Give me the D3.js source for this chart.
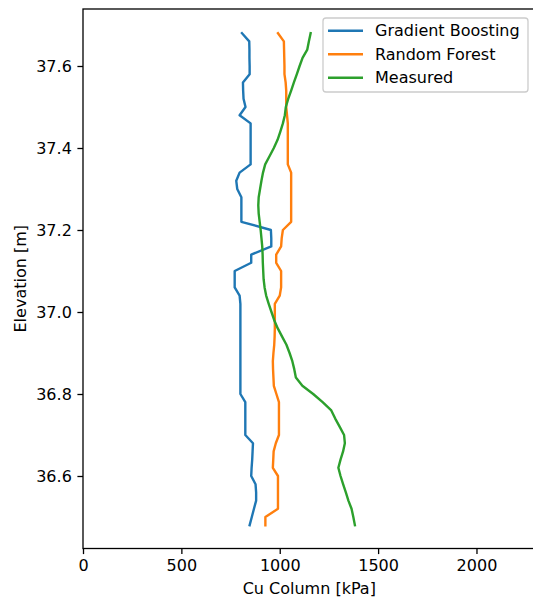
<!DOCTYPE html>
<html>
<head>
<meta charset="utf-8">
<script src="https://cdn.jsdelivr.net/npm/d3@7"></script>
<style>
  body { margin: 0; background: #fff; }
  svg { display: block; font-family: "DejaVu Sans", sans-serif; }
</style>
</head>
<body>
<div id="chart"></div>
<script>
// elevation of each sample [m]
var elevation = [
  37.68, 37.66, 37.64, 37.62, 37.60, 37.58, 37.56, 37.54, 37.52, 37.50,
  37.48, 37.46, 37.44, 37.42, 37.40, 37.38, 37.36, 37.34, 37.32, 37.30,
  37.28, 37.26, 37.24, 37.22, 37.20, 37.18, 37.16, 37.14, 37.12, 37.10,
  37.08, 37.06, 37.04, 37.02, 37.00, 36.98, 36.96, 36.94, 36.92, 36.90,
  36.88, 36.86, 36.84, 36.82, 36.80, 36.78, 36.76, 36.74, 36.72, 36.70,
  36.68, 36.66, 36.64, 36.62, 36.60, 36.58, 36.56, 36.54, 36.52, 36.50,
  36.48
];

// Cu column [kPa]
var gradient_boosting = [
  808, 845, 846, 846, 847, 847, 813, 814, 816, 826,
  796, 852, 852, 852, 852, 852, 852, 796, 779, 784,
  805, 805, 805, 805, 955, 957, 957, 855, 855, 771,
  771, 771, 796, 800, 800, 800, 800, 800, 800, 800,
  800, 800, 800, 800, 800, 825, 825, 825, 825, 825,
  864, 862, 860, 857, 855, 877, 880, 880, 869, 858,
  847
];

var random_forest = [
  991, 1021, 1022, 1023, 1024, 1024, 1030, 1033, 1033, 1033,
  1037, 1041, 1041, 1041, 1041, 1041, 1041, 1058, 1058, 1058,
  1058, 1058, 1058, 1058, 1016, 1010, 1007, 982, 982, 1007,
  1007, 1007, 1000, 975, 975, 975, 975, 974, 972, 968,
  965, 966, 968, 970, 983, 996, 996, 996, 996, 996,
  980, 969, 967, 965, 991, 991, 991, 991, 991, 927,
  927
];

var measured = [
  1157, 1148, 1140, 1116, 1101, 1087, 1072, 1058, 1043, 1031,
  1026, 1016, 1003, 989, 970, 948, 926, 915, 907, 900,
  893, 891, 893, 898, 903, 907, 911, 913, 914, 916,
  918, 923, 931, 944, 958, 972, 990, 1012, 1034, 1050,
  1064, 1074, 1082, 1115, 1170, 1218, 1262, 1282, 1305, 1327,
  1331, 1322, 1309, 1298, 1309, 1322, 1336, 1349, 1365, 1374,
  1382
];

var series_names = ['Gradient Boosting', 'Random Forest', 'Measured'];
var series_colors = ['#1f77b4', '#ff7f0e', '#2ca02c'];
var x_ticks = [0, 500, 1000, 1500, 2000];
var y_ticks = [37.6, 37.4, 37.2, 37.0, 36.8, 36.6];

var W = 533, H = 604;
var plot = { left: 83, top: 9, right: 535.5, bottom: 548.5 };
var font_size = 16;

var svg = d3.select('#chart')
  .append('svg')
  .attr('width', W)
  .attr('height', H);

var x = d3.scaleLinear().domain([0, 2300]).range([plot.left, plot.right]);
var y = d3.scaleLinear().domain([36.6, 37.6]).range([476, 66]);

// data lines
var all_series = [gradient_boosting, random_forest, measured];
var line = d3.line()
  .x(function (d) { return x(d[0]); })
  .y(function (d) { return y(d[1]); });

all_series.forEach(function (vals, i) {
  var pts = vals.map(function (v, j) { return [v, elevation[j]]; });
  svg.append('path')
    .datum(pts)
    .attr('d', line)
    .attr('fill', 'none')
    .attr('stroke', series_colors[i])
    .attr('stroke-width', 2.4)
    .attr('stroke-linejoin', 'round')
    .attr('stroke-linecap', 'square');
});

// spines
svg.append('rect')
  .attr('x', plot.left)
  .attr('y', plot.top)
  .attr('width', plot.right - plot.left)
  .attr('height', plot.bottom - plot.top)
  .attr('fill', 'none')
  .attr('stroke', '#000')
  .attr('stroke-width', 1.3);

// axes
var x_axis = svg.append('g')
  .attr('transform', 'translate(0,' + plot.bottom + ')')
  .call(d3.axisBottom(x).tickValues(x_ticks).tickFormat(d3.format('d'))
    .tickSize(5.6).tickPadding(5.6));

var y_axis = svg.append('g')
  .attr('transform', 'translate(' + plot.left + ',0)')
  .call(d3.axisLeft(y).tickValues(y_ticks).tickFormat(d3.format('.1f'))
    .tickSize(5.6).tickPadding(5.6));

[x_axis, y_axis].forEach(function (g) {
  g.select('.domain').remove();
  g.selectAll('.tick line').attr('stroke', '#000').attr('stroke-width', 1.3);
  g.selectAll('.tick text')
    .attr('fill', '#000')
    .style('font-size', font_size + 'px')
    .style('font-family', '"DejaVu Sans", sans-serif');
});

// axis labels
svg.append('text')
  .attr('x', (plot.left + plot.right) / 2)
  .attr('y', 594)
  .attr('text-anchor', 'middle')
  .attr('font-size', font_size)
  .attr('fill', '#000')
  .text('Cu Column [kPa]');

svg.append('text')
  .attr('transform', 'translate(26,' + ((plot.top + plot.bottom) / 2) + ') rotate(-90)')
  .attr('text-anchor', 'middle')
  .attr('font-size', font_size)
  .attr('fill', '#000')
  .text('Elevation [m]');

// legend
var legend = svg.append('g');
legend.append('rect')
  .attr('x', 323)
  .attr('y', 18)
  .attr('width', 205)
  .attr('height', 74)
  .attr('rx', 3)
  .attr('fill', '#fff')
  .attr('fill-opacity', 0.8)
  .attr('stroke', '#cccccc')
  .attr('stroke-width', 1.3);

series_names.forEach(function (name, i) {
  var ry = 30.7 + i * 23.5;
  legend.append('line')
    .attr('x1', 328).attr('x2', 363)
    .attr('y1', ry).attr('y2', ry)
    .attr('stroke', series_colors[i])
    .attr('stroke-width', 2.4);
  legend.append('text')
    .attr('x', 375)
    .attr('y', ry + 5.7)
    .attr('font-size', font_size)
    .attr('fill', '#000')
    .text(name);
});
</script>
</body>
</html>
